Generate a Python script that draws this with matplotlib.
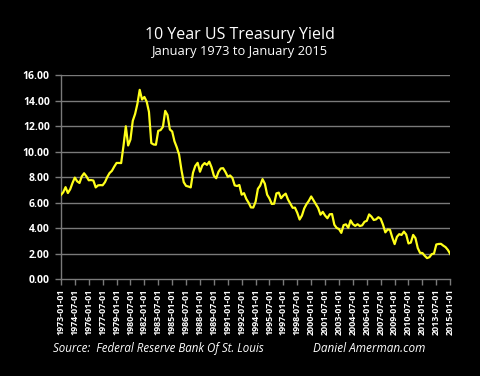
import matplotlib
matplotlib.use('Agg')
import matplotlib.pyplot as plt
import pandas as pd

# Quarterly average 10 year treasury yield (%), 1973Q1 .. 2015Q1
yields = [
    6.60, 6.81, 7.21, 6.75,   # 1973
    7.05, 7.54, 7.96, 7.67,   # 1974
    7.54, 8.05, 8.30, 8.06,   # 1975
    7.75, 7.77, 7.73, 7.19,   # 1976
    7.35, 7.37, 7.36, 7.60,   # 1977
    8.01, 8.32, 8.49, 8.82,   # 1978
    9.11, 9.11, 9.10, 10.45,  # 1979
    11.99, 10.48, 10.95, 12.42,  # 1980
    12.96, 13.75, 14.85, 14.09,  # 1981
    14.29, 13.93, 13.12, 10.67,  # 1982
    10.56, 10.54, 11.63, 11.69,  # 1983
    11.94, 13.20, 12.87, 11.74,  # 1984
    11.58, 10.81, 10.34, 9.76,   # 1985
    8.56, 7.60, 7.31, 7.26,   # 1986
    7.19, 8.34, 8.88, 9.12,   # 1987
    8.42, 8.91, 9.10, 8.96,   # 1988
    9.21, 8.77, 8.11, 7.91,   # 1989
    8.42, 8.68, 8.70, 8.40,   # 1990
    8.02, 8.13, 7.94, 7.35,   # 1991
    7.30, 7.38, 6.62, 6.74,   # 1992
    6.28, 5.99, 5.62, 5.61,   # 1993
    6.07, 7.08, 7.33, 7.84,   # 1994
    7.48, 6.62, 6.32, 5.89,   # 1995
    5.91, 6.72, 6.78, 6.34,   # 1996
    6.56, 6.70, 6.24, 5.91,   # 1997
    5.59, 5.60, 5.20, 4.67,   # 1998
    4.98, 5.54, 5.88, 6.14,   # 1999
    6.48, 6.18, 5.89, 5.57,   # 2000
    5.05, 5.27, 4.98, 4.77,   # 2001
    5.08, 5.10, 4.26, 4.01,   # 2002
    3.92, 3.62, 4.23, 4.29,   # 2003
    4.02, 4.60, 4.30, 4.17,   # 2004
    4.30, 4.16, 4.21, 4.49,   # 2005
    4.57, 5.07, 4.90, 4.63,   # 2006
    4.68, 4.85, 4.73, 4.26,   # 2007
    3.66, 3.89, 3.86, 3.25,   # 2008
    2.74, 3.31, 3.52, 3.46,   # 2009
    3.72, 3.49, 2.79, 2.86,   # 2010
    3.46, 3.21, 2.43, 2.05,   # 2011
    2.04, 1.82, 1.64, 1.71,   # 2012
    1.95, 2.00, 2.71, 2.75,   # 2013
    2.76, 2.62, 2.50, 2.28,   # 2014
    1.97,                     # 2015
]
dates = pd.date_range('1973-01-01', periods=len(yields), freq='QS')

tick_dates = pd.date_range('1973-01-01', '2015-01-01', freq='18MS')
tick_labels = [d.strftime('%Y-%m-%d') for d in tick_dates]
y_ticks = [0, 2, 4, 6, 8, 10, 12, 14, 16]

plt.rcParams['font.family'] = ['Open Sans', 'DejaVu Sans']

fig = plt.figure(figsize=(4.8, 3.76), dpi=100, facecolor='black')
ax = fig.add_axes([0.127, 0.258, 0.811, 0.542], facecolor='black')

grid_col = '#7a7a7a'
for v in y_ticks[1:]:
    ax.axhline(v, color=grid_col, lw=1.0, zorder=1)

ax.plot(dates, yields, color='#ffff1a', lw=1.6, zorder=3)

ax.set_xlim(dates[0], tick_dates[-1])
ax.set_ylim(0, 16)
ax.set_yticks(y_ticks)
ax.set_yticklabels(['%.2f' % v for v in y_ticks], fontsize=7.5,
                   color='white', fontweight='bold')
ax.set_xticks(tick_dates)
ax.set_xticklabels(tick_labels, rotation=90, fontsize=6.4,
                   color='white', fontweight='bold')
ax.tick_params(axis='both', colors=grid_col, labelcolor='white',
               length=4, width=1, pad=3)
ax.tick_params(axis='y', length=4, pad=4)

for side in ['top', 'right']:
    ax.spines[side].set_visible(False)
for side in ['left', 'bottom']:
    ax.spines[side].set_color(grid_col)
    ax.spines[side].set_linewidth(1.0)

fig.text(0.5, 0.907, '10 Year US Treasury Yield', ha='center', va='center',
         color='white', fontsize=11.5)
fig.text(0.5, 0.862, 'January 1973 to January 2015', ha='center', va='center',
         color='white', fontsize=9.3)

fig.text(0.11, 0.072, 'Source:  Federal Reserve Bank Of St. Louis', ha='left',
         va='center', color='white', fontsize=8.3, style='italic')
fig.text(0.652, 0.072, 'Daniel Amerman.com', ha='left', va='center',
         color='white', fontsize=8.5, style='italic')

fig.savefig('out.png', dpi=100, facecolor='black')
